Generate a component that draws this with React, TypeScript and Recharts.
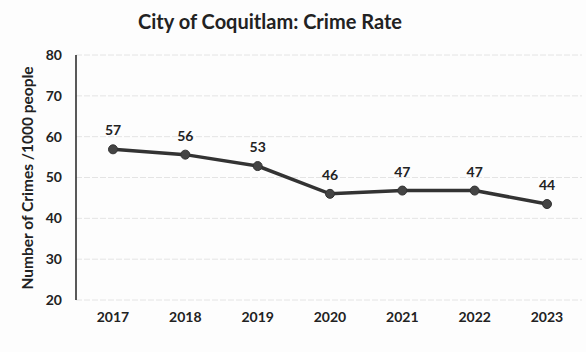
import { LineChart, Line, XAxis, YAxis, CartesianGrid, LabelList } from 'recharts';

const years = ['2017', '2018', '2019', '2020', '2021', '2022', '2023'];
const crimeRate = [56.9, 55.6, 52.8, 46.0, 46.8, 46.8, 43.5];
const yTicks = [20, 30, 40, 50, 60, 70, 80];

const chartData = years.map((year, i) => ({ year, rate: crimeRate[i] }));

const FONT = 'Lato, "Open Sans", sans-serif';

export default function App() {
  return (
    <div style={{ position: 'absolute', left: 0, top: 0, width: 586, height: 352, background: '#fdfdfd', fontFamily: FONT }}>
      <div
        style={{
          position: 'absolute',
          left: 0,
          top: 9,
          width: 540,
          textAlign: 'center',
          fontSize: 20,
          fontWeight: 700,
          color: '#222',
        }}
      >
        City of Coquitlam: Crime Rate
      </div>
      <LineChart width={586} height={352} data={chartData} margin={{ top: 55, right: 4, left: 0, bottom: 22 }}>
        <CartesianGrid vertical={false} stroke="#e4e4e4" strokeDasharray="6 2" />
        <XAxis
          dataKey="year"
          axisLine={false}
          tickLine={false}
          tickMargin={6}
          padding={{ left: 37, right: 35 }}
          tick={{ fill: '#222', fontSize: 14, fontWeight: 700, fontFamily: FONT }}
        />
        <YAxis
          width={76}
          domain={[20, 80]}
          ticks={yTicks}
          interval={0}
          tickLine={false}
          tickMargin={8}
          axisLine={{ stroke: '#222', strokeWidth: 1.5 }}
          tick={{ fill: '#222', fontSize: 14, fontWeight: 700, fontFamily: FONT }}
          label={{
            content: () => (
              <text
                x={27}
                y={178}
                transform="rotate(-90, 27, 178)"
                textAnchor="middle"
                dominantBaseline="central"
                fill="#222"
                fontSize={15.5}
                fontWeight={700}
                fontFamily={FONT}
              >
                Number of Crimes /1000 people
              </text>
            ),
          }}
        />
        <Line
          type="linear"
          dataKey="rate"
          stroke="#333"
          strokeWidth={3.5}
          dot={{ r: 4.5, fill: '#444', stroke: '#333', strokeWidth: 1 }}
          isAnimationActive={false}
        >
          <LabelList
            dataKey="rate"
            position="top"
            offset={14}
            formatter={(v: any) => Math.round(Number(v))}
            style={{ fill: '#222', fontSize: 14, fontWeight: 700, fontFamily: FONT }}
          />
        </Line>
      </LineChart>
    </div>
  );
}
